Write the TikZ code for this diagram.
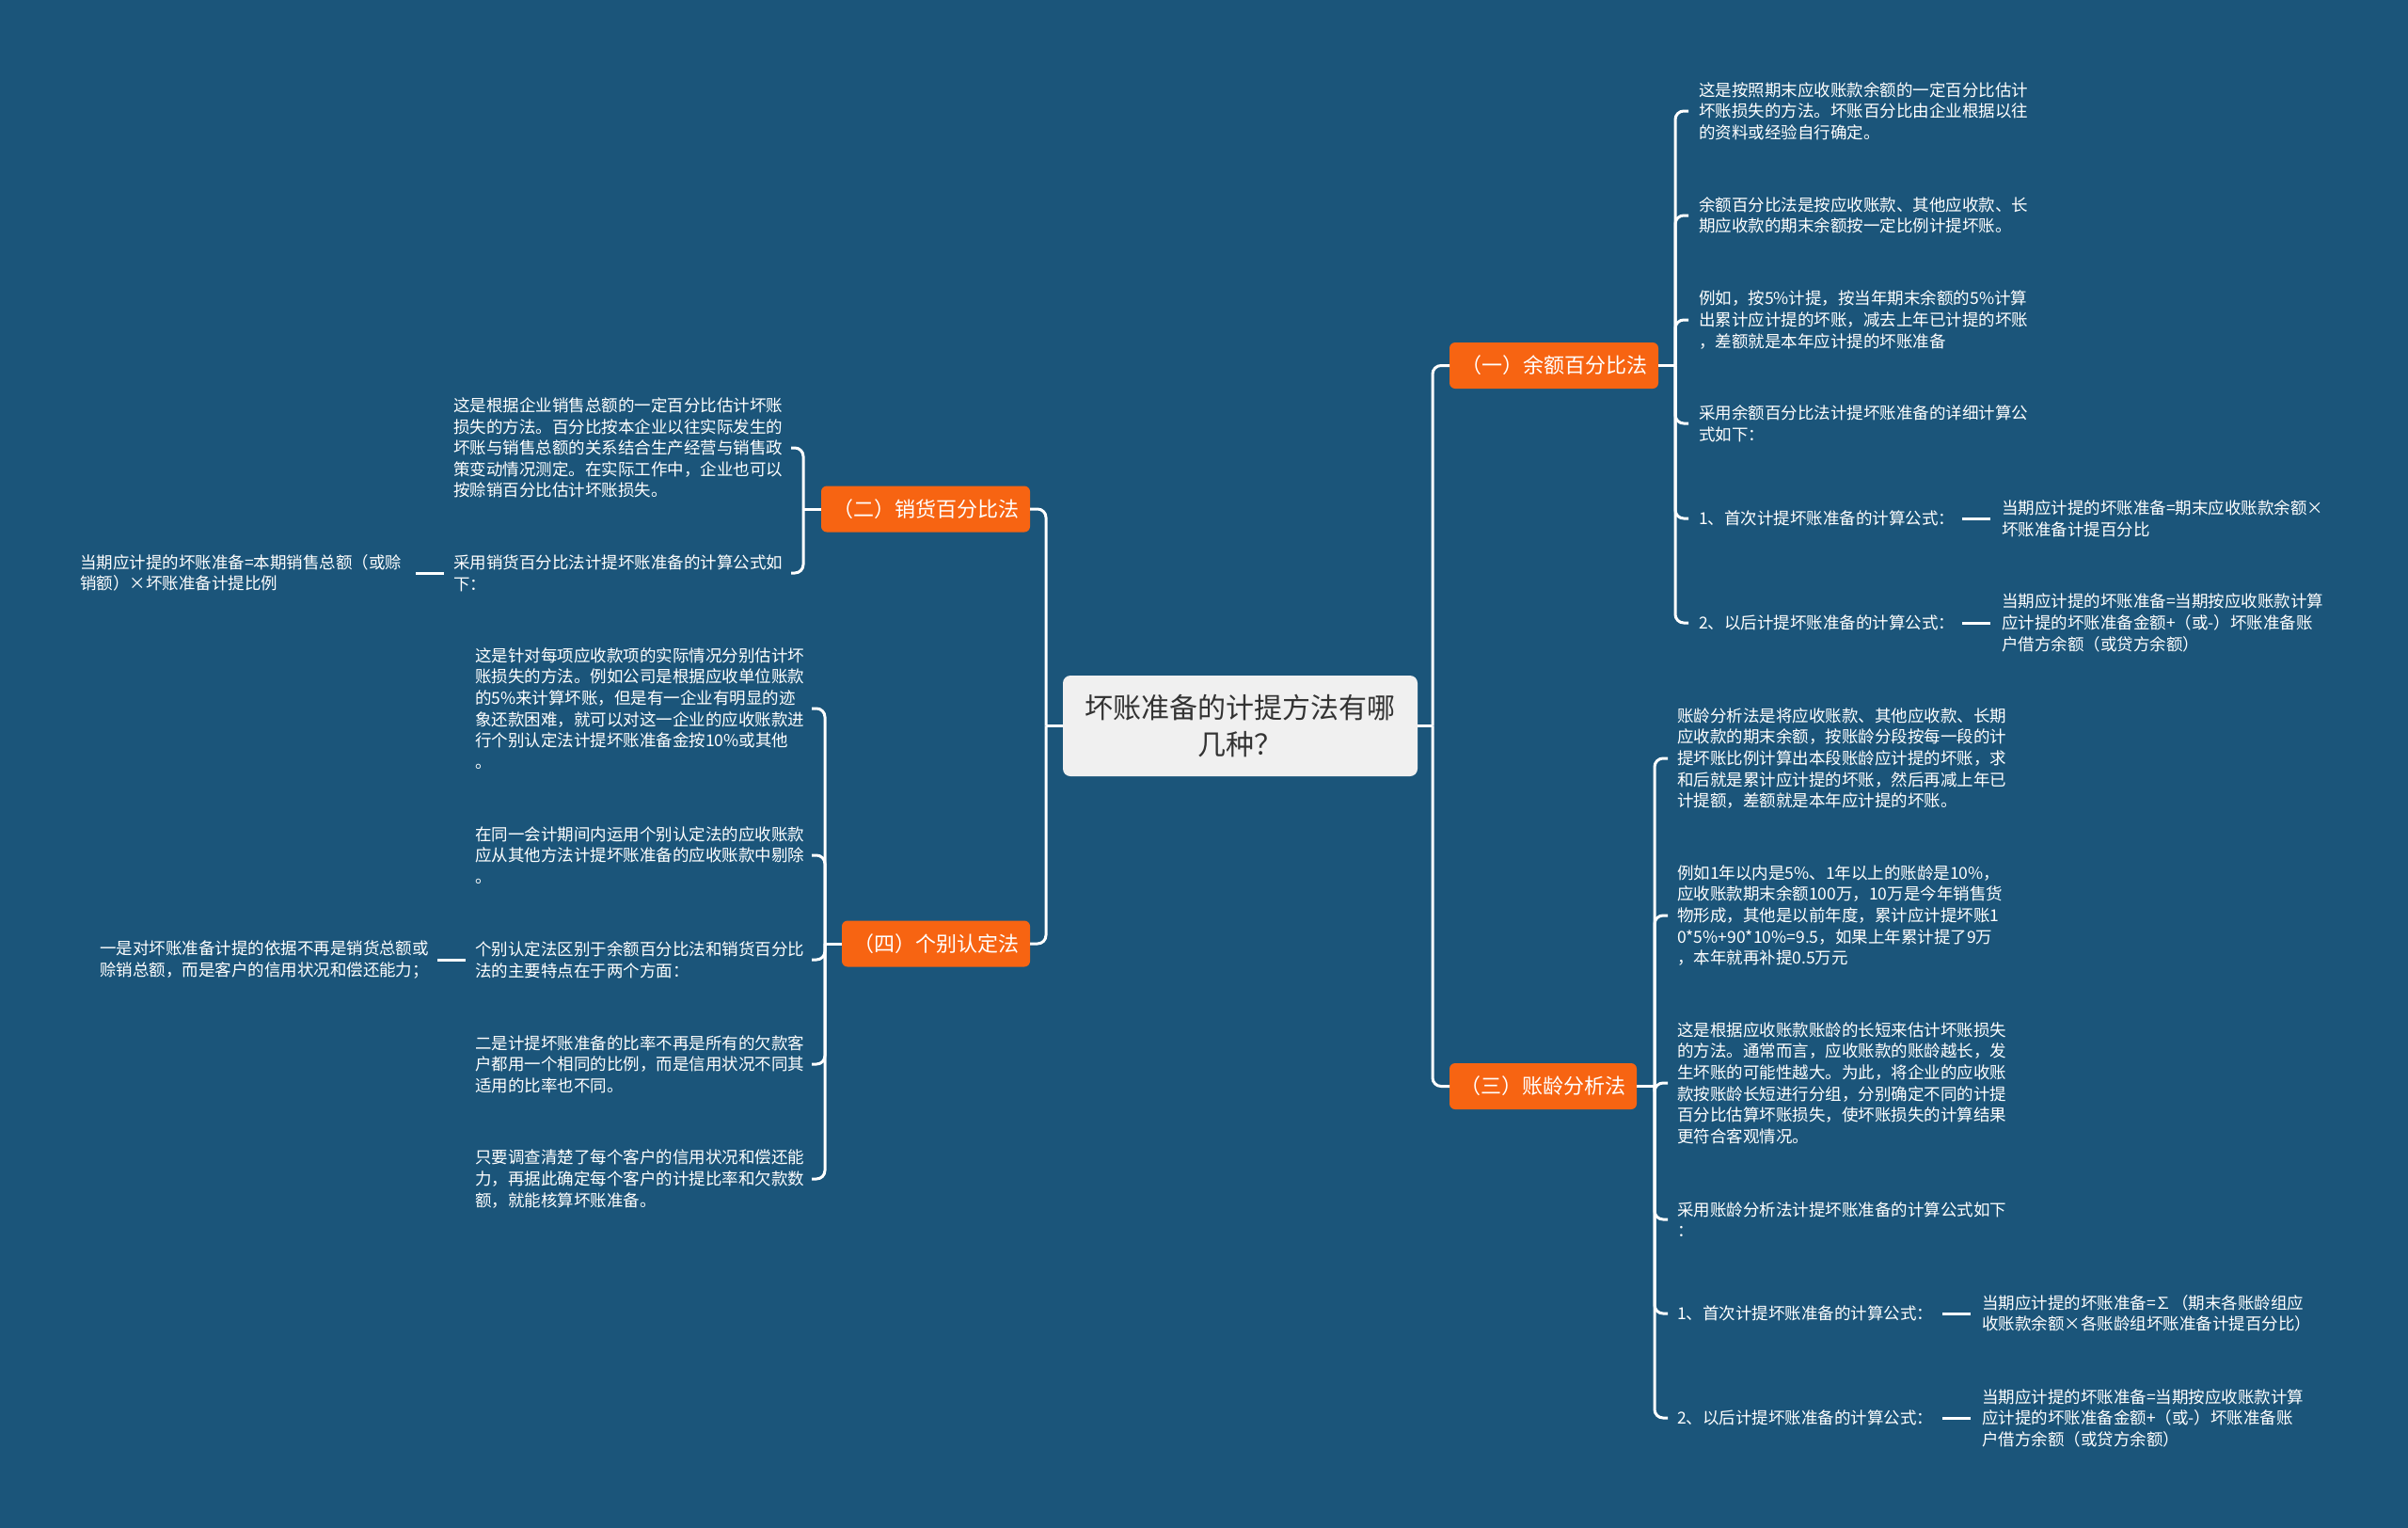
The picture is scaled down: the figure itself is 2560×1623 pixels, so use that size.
\documentclass[tikz,border=0pt]{standalone}
\usepackage{fontspec}
\setmainfont{Noto Sans CJK SC}
\definecolor{bg}{RGB}{27,85,122}
\definecolor{org}{RGB}{247,100,18}
\definecolor{rootfill}{RGB}{240,240,240}
\definecolor{roottext}{RGB}{51,51,51}
\begin{document}
\begin{tikzpicture}[x=1pt,y=-1pt,
  every node/.style={inner sep=0pt, outer sep=0pt},
  txt/.style={anchor=west, align=left, text=white, font=\fontsize{17.5}{22.6}\selectfont},
  ltxt/.style={txt, text width=350pt},
  cat/.style={fill=org, rounded corners=6pt, text=white, font=\fontsize{22}{26}\selectfont, minimum height=49pt},
  link/.style={draw=white, line width=3pt, rounded corners=9pt},
  tick/.style={draw=white, line width=3pt},
]
\useasboundingbox (0,0) rectangle (2560,1623);
\fill[bg] (-3,-3) rectangle (2563,1626);

% root
\node[fill=rootfill, rounded corners=8pt, minimum width=377pt, minimum height=107pt,
      align=center, text=roottext, font=\fontsize{30}{39}\selectfont]
      (root) at (1318.5,771.5) {坏账准备的计提方法有哪\\几种？};

% categories
\node[cat, minimum width=222pt] (n1) at (1652,388.5) {（一）余额百分比法};
\node[cat, minimum width=199pt] (n3) at (1640.5,1154.5) {（三）账龄分析法};
\node[cat, minimum width=222pt] (n2) at (984,541) {（二）销货百分比法};
\node[cat, minimum width=200pt] (n4) at (995,1003) {（四）个别认定法};

% (一) children
\node[txt] (c11) at (1806,118) {这是按照期末应收账款余额的一定百分比估计\\坏账损失的方法。坏账百分比由企业根据以往\\的资料或经验自行确定。};
\node[txt] (c12) at (1806,229) {余额百分比法是按应收账款、其他应收款、长\\期应收款的期末余额按一定比例计提坏账。};
\node[txt] (c13) at (1806,340) {例如，按5\%计提，按当年期末余额的5\%计算\\出累计应计提的坏账，减去上年已计提的坏账\\，差额就是本年应计提的坏账准备};
\node[txt] (c14) at (1806,450) {采用余额百分比法计提坏账准备的详细计算公\\式如下：};
\node[txt] (c15) at (1806,551) {1、首次计提坏账准备的计算公式：};
\node[txt] (c15l) at (2128,551) {当期应计提的坏账准备=期末应收账款余额×\\坏账准备计提百分比};
\node[txt] (c16) at (1806,662) {2、以后计提坏账准备的计算公式：};
\node[txt] (c16l) at (2128,662) {当期应计提的坏账准备=当期按应收账款计算\\应计提的坏账准备金额+（或-）坏账准备账\\户借方余额（或贷方余额）};

% (三) children
\node[txt] (c31) at (1783,806) {账龄分析法是将应收账款、其他应收款、长期\\应收款的期末余额，按账龄分段按每一段的计\\提坏账比例计算出本段账龄应计提的坏账，求\\和后就是累计应计提的坏账，然后再减上年已\\计提额，差额就是本年应计提的坏账。};
\node[txt] (c32) at (1783,973) {例如1年以内是5\%、1年以上的账龄是10\%，\\应收账款期末余额100万，10万是今年销售货\\物形成，其他是以前年度，累计应计提坏账1\\0*5\%+90*10\%=9.5，如果上年累计提了9万\\，本年就再补提0.5万元};
\node[txt] (c33) at (1783,1151) {这是根据应收账款账龄的长短来估计坏账损失\\的方法。通常而言，应收账款的账龄越长，发\\生坏账的可能性越大。为此，将企业的应收账\\款按账龄长短进行分组，分别确定不同的计提\\百分比估算坏账损失，使坏账损失的计算结果\\更符合客观情况。};
\node[txt] (c34) at (1783,1296) {采用账龄分析法计提坏账准备的计算公式如下\\：};
\node[txt] (c35) at (1783,1396) {1、首次计提坏账准备的计算公式：};
\node[txt] (c35l) at (2107,1396) {当期应计提的坏账准备=∑（期末各账龄组应\\收账款余额×各账龄组坏账准备计提百分比）};
\node[txt] (c36) at (1783,1507) {2、以后计提坏账准备的计算公式：};
\node[txt] (c36l) at (2107,1507) {当期应计提的坏账准备=当期按应收账款计算\\应计提的坏账准备金额+（或-）坏账准备账\\户借方余额（或贷方余额）};

% (二) children
\node[ltxt] (c21) at (482,476) {这是根据企业销售总额的一定百分比估计坏账\\损失的方法。百分比按本企业以往实际发生的\\坏账与销售总额的关系结合生产经营与销售政\\策变动情况测定。在实际工作中，企业也可以\\按赊销百分比估计坏账损失。};
\node[ltxt] (c22) at (482,609) {采用销货百分比法计提坏账准备的计算公式如\\下：};
\node[txt] (c22l) at (85,609) {当期应计提的坏账准备=本期销售总额（或赊\\销额）×坏账准备计提比例};

% (四) children
\node[ltxt] (c41) at (505,753) {这是针对每项应收款项的实际情况分别估计坏\\账损失的方法。例如公司是根据应收单位账款\\的5\%来计算坏账，但是有一企业有明显的迹\\象还款困难，就可以对这一企业的应收账款进\\行个别认定法计提坏账准备金按10\%或其他\\。};
\node[ltxt] (c42) at (505,909) {在同一会计期间内运用个别认定法的应收账款\\应从其他方法计提坏账准备的应收账款中剔除\\。};
\node[ltxt] (c43) at (505,1020) {个别认定法区别于余额百分比法和销货百分比\\法的主要特点在于两个方面：};
\node[txt] (c43l) at (106,1020) {一是对坏账准备计提的依据不再是销货总额或\\赊销总额，而是客户的信用状况和偿还能力；};
\node[ltxt] (c44) at (505,1131) {二是计提坏账准备的比率不再是所有的欠款客\\户都用一个相同的比例，而是信用状况不同其\\适用的比率也不同。};
\node[ltxt] (c45) at (505,1253) {只要调查清楚了每个客户的信用状况和偿还能\\力，再据此确定每个客户的计提比率和欠款数\\额，就能核算坏账准备。};

% root connectors
\draw[tick] (root.west) -- ++(-18,0) coordinate (tl);
\draw[link] (tl) |- (n2.east);
\draw[link] (tl) |- (n4.east);
\draw[tick] (root.east) -- ++(16,0) coordinate (tr);
\draw[link] (tr) |- (n1.west);
\draw[link] (tr) |- (n3.west);

% (一) bracket
\draw[tick] (n1.east) -- ++(18,0) coordinate (t1);
\foreach \c in {c11,c12,c13,c14,c15,c16}
  \draw[link] (t1) |- ([xshift=-11pt]\c.west);
% (三) bracket
\draw[tick] (n3.east) -- ++(19,0) coordinate (t3);
\foreach \c in {c31,c32,c33,c34,c35,c36}
  \draw[link] (t3) |- ([xshift=-10pt]\c.west);
% (二) bracket
\draw[tick] (n2.west) -- ++(-19,0) coordinate (t2);
\foreach \c in {c21,c22}
  \draw[link] (t2) |- ([xshift=9pt]\c.east);
% (四) bracket
\draw[tick] (n4.west) -- ++(-18,0) coordinate (t4);
\foreach \c in {c41,c42,c43,c44,c45}
  \draw[link] (t4) |- ([xshift=8pt]\c.east);

% leaf ticks
\draw[tick] ([xshift=-42pt]c15l.west) -- ([xshift=-12pt]c15l.west);
\draw[tick] ([xshift=-42pt]c16l.west) -- ([xshift=-12pt]c16l.west);
\draw[tick] ([xshift=-42pt]c35l.west) -- ([xshift=-12pt]c35l.west);
\draw[tick] ([xshift=-42pt]c36l.west) -- ([xshift=-12pt]c36l.west);
\draw[tick] ([xshift=-40pt]c22.west) -- ([xshift=-10pt]c22.west);
\draw[tick] ([xshift=-40pt]c43.west) -- ([xshift=-10pt]c43.west);
\end{tikzpicture}
\end{document}
